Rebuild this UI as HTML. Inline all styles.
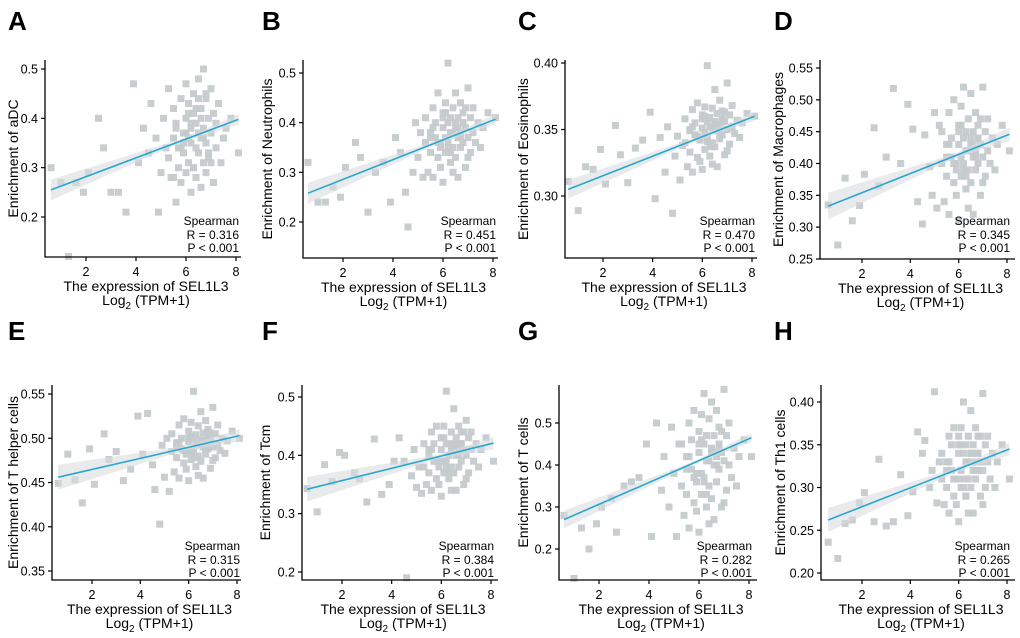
<!DOCTYPE html>
<html><head><meta charset="utf-8">
<style>
html,body{margin:0;padding:0;background:#fff;}
svg{display:block;font-family:"Liberation Sans",Arial,sans-serif;}
</style></head>
<body>
<svg id="fig" width="1020" height="638" viewBox="0 0 1020 638" xmlns="http://www.w3.org/2000/svg"></svg>
<script>
// shared x values (SEL1L3 expression)
const xVals = [0.6,1.0,1.3,1.6,1.9,2.1,2.5,2.7,3.0,3.3,3.6,3.9,4.1,4.3,4.5,4.6,4.8,4.9,5.0,5.1,5.2,5.3,5.3,5.4,5.5,5.5,5.6,5.6,5.7,5.7,5.8,5.8,5.9,5.9,6.0,6.0,6.0,6.1,6.1,6.1,6.2,6.2,6.2,6.3,6.3,6.3,6.4,6.4,6.4,6.5,6.5,6.5,6.6,6.6,6.6,6.7,6.7,6.7,6.8,6.8,6.8,6.9,6.9,7.0,7.0,7.1,7.1,7.2,7.2,7.3,7.4,7.5,7.6,7.8,8.1,5.6,5.9,6.1,6.3,6.5,6.7,6.9,6.2,6.4,6.0,5.8,6.6,7.0,6.8,5.5];
const xTicks = [2,4,6,8];
const panelLetters = ["A","B","C","D","E","F","G","H"];
const cellNames = ["aDC","Neutrophils","Eosinophils","Macrophages","T helper cells","Tcm","T cells","Th1 cells"];
const rValues = ["0.316","0.451","0.470","0.345","0.315","0.384","0.282","0.265"];
const lineStart = [0.255,0.258,0.305,0.333,0.456,0.342,0.270,0.262];
const lineEnd = [0.398,0.407,0.360,0.446,0.503,0.421,0.465,0.345];
const yTicksA = [0.2,0.3,0.4,0.5];
const yTicksB = [0.2,0.3,0.4,0.5];
const yTicksC = [0.30,0.35,0.40];
const yTicksD = [0.25,0.30,0.35,0.40,0.45,0.50,0.55];
const yTicksE = [0.35,0.40,0.45,0.50,0.55];
const yTicksF = [0.2,0.3,0.4,0.5];
const yTicksG = [0.2,0.3,0.4,0.5];
const yTicksH = [0.20,0.25,0.30,0.35,0.40];
const yA = [0.30,0.27,0.12,0.27,0.25,0.29,0.40,0.34,0.25,0.25,0.21,0.47,0.31,0.38,0.33,0.43,0.36,0.21,0.29,0.40,0.34,0.32,0.46,0.28,0.42,0.36,0.23,0.39,0.30,0.34,0.44,0.27,0.37,0.33,0.47,0.40,0.29,0.36,0.43,0.31,0.38,0.25,0.35,0.41,0.30,0.45,0.34,0.28,0.39,0.48,0.33,0.37,0.26,0.42,0.36,0.31,0.50,0.38,0.29,0.44,0.35,0.40,0.32,0.46,0.37,0.27,0.41,0.34,0.39,0.43,0.31,0.36,0.38,0.40,0.33,0.38,0.35,0.41,0.30,0.44,0.36,0.33,0.39,0.42,0.37,0.34,0.40,0.31,0.45,0.28];
const yB = [0.32,0.24,0.24,0.27,0.25,0.31,0.36,0.33,0.22,0.30,0.32,0.24,0.37,0.34,0.26,0.19,0.30,0.40,0.33,0.38,0.29,0.36,0.41,0.30,0.38,0.34,0.43,0.29,0.37,0.40,0.33,0.46,0.35,0.31,0.39,0.42,0.28,0.37,0.44,0.34,0.40,0.52,0.36,0.32,0.41,0.38,0.30,0.43,0.35,0.39,0.46,0.33,0.37,0.41,0.29,0.38,0.44,0.35,0.40,0.36,0.42,0.31,0.39,0.47,0.37,0.34,0.41,0.38,0.43,0.36,0.40,0.35,0.39,0.42,0.41,0.39,0.36,0.42,0.34,0.40,0.37,0.43,0.35,0.38,0.41,0.36,0.39,0.33,0.40,0.37];
const yC = [0.311,0.289,0.322,0.320,0.335,0.309,0.353,0.331,0.310,0.336,0.342,0.363,0.298,0.344,0.318,0.352,0.287,0.330,0.345,0.312,0.338,0.340,0.358,0.322,0.350,0.333,0.365,0.318,0.346,0.355,0.329,0.370,0.342,0.326,0.351,0.361,0.320,0.348,0.367,0.335,0.356,0.398,0.344,0.330,0.359,0.352,0.324,0.366,0.340,0.354,0.380,0.337,0.349,0.362,0.322,0.353,0.372,0.343,0.358,0.346,0.364,0.331,0.356,0.385,0.350,0.339,0.361,0.352,0.368,0.347,0.357,0.344,0.355,0.362,0.360,0.352,0.343,0.360,0.337,0.356,0.348,0.363,0.341,0.351,0.358,0.345,0.354,0.334,0.357,0.349];
const yD = [0.335,0.272,0.377,0.310,0.334,0.383,0.456,0.365,0.410,0.518,0.400,0.493,0.454,0.340,0.305,0.445,0.395,0.350,0.480,0.330,0.460,0.40,0.45,0.34,0.43,0.38,0.48,0.32,0.41,0.44,0.37,0.50,0.39,0.35,0.43,0.46,0.31,0.41,0.49,0.38,0.44,0.52,0.40,0.36,0.45,0.42,0.33,0.47,0.39,0.43,0.51,0.37,0.41,0.45,0.32,0.42,0.48,0.39,0.44,0.40,0.46,0.35,0.43,0.52,0.41,0.38,0.45,0.42,0.47,0.40,0.44,0.39,0.43,0.46,0.42,0.43,0.40,0.46,0.38,0.44,0.41,0.47,0.39,0.42,0.45,0.40,0.43,0.37,0.44,0.41];
const yE = [0.449,0.482,0.453,0.427,0.488,0.448,0.505,0.476,0.485,0.452,0.465,0.525,0.482,0.528,0.470,0.442,0.403,0.492,0.456,0.500,0.440,0.485,0.505,0.462,0.495,0.478,0.515,0.455,0.488,0.500,0.472,0.522,0.482,0.465,0.496,0.508,0.452,0.486,0.518,0.476,0.500,0.553,0.484,0.468,0.504,0.492,0.458,0.514,0.480,0.497,0.530,0.474,0.490,0.506,0.455,0.494,0.520,0.482,0.502,0.488,0.510,0.466,0.498,0.535,0.490,0.478,0.505,0.493,0.515,0.486,0.500,0.483,0.497,0.508,0.500,0.495,0.484,0.502,0.478,0.498,0.488,0.506,0.481,0.493,0.500,0.486,0.496,0.475,0.499,0.490];
const yF = [0.343,0.303,0.384,0.355,0.405,0.400,0.370,0.360,0.320,0.428,0.333,0.350,0.390,0.430,0.390,0.190,0.365,0.410,0.345,0.380,0.335,0.38,0.42,0.35,0.41,0.37,0.44,0.34,0.39,0.42,0.36,0.45,0.38,0.35,0.41,0.43,0.33,0.39,0.45,0.37,0.42,0.51,0.39,0.36,0.42,0.40,0.34,0.44,0.38,0.41,0.48,0.37,0.40,0.43,0.34,0.41,0.45,0.38,0.42,0.39,0.44,0.35,0.41,0.46,0.40,0.37,0.43,0.41,0.44,0.39,0.42,0.38,0.41,0.43,0.39,0.41,0.39,0.43,0.37,0.42,0.40,0.44,0.38,0.41,0.43,0.39,0.42,0.36,0.42,0.40];
const yG = [0.28,0.13,0.25,0.20,0.26,0.30,0.32,0.24,0.35,0.36,0.37,0.45,0.23,0.50,0.34,0.42,0.30,0.49,0.38,0.23,0.45,0.35,0.45,0.28,0.42,0.33,0.50,0.25,0.39,0.46,0.31,0.53,0.36,0.29,0.43,0.48,0.24,0.38,0.52,0.33,0.45,0.57,0.37,0.30,0.47,0.41,0.26,0.51,0.35,0.43,0.55,0.32,0.40,0.47,0.27,0.42,0.53,0.36,0.45,0.39,0.49,0.30,0.43,0.58,0.41,0.34,0.47,0.40,0.50,0.37,0.44,0.35,0.42,0.46,0.42,0.42,0.38,0.46,0.33,0.44,0.40,0.48,0.36,0.41,0.45,0.37,0.43,0.31,0.44,0.39];
const yH = [0.236,0.217,0.258,0.262,0.282,0.294,0.260,0.333,0.255,0.260,0.315,0.267,0.295,0.365,0.340,0.355,0.300,0.320,0.412,0.282,0.330,0.31,0.34,0.28,0.33,0.30,0.36,0.27,0.32,0.35,0.29,0.37,0.31,0.28,0.34,0.36,0.26,0.32,0.37,0.30,0.34,0.40,0.31,0.29,0.35,0.33,0.27,0.36,0.31,0.34,0.39,0.30,0.32,0.35,0.27,0.33,0.37,0.31,0.34,0.32,0.36,0.29,0.33,0.41,0.32,0.30,0.35,0.33,0.36,0.31,0.34,0.30,0.33,0.35,0.31,0.33,0.31,0.35,0.29,0.34,0.32,0.36,0.30,0.33,0.35,0.31,0.34,0.28,0.34,0.32];
const yTickDecimals = [1,1,2,2,2,1,1,2];

const allY = [yA,yB,yC,yD,yE,yF,yG,yH];
const allTicks = [yTicksA,yTicksB,yTicksC,yTicksD,yTicksE,yTicksF,yTicksG,yTicksH];
// layout (pixels): axisX, top, bottom, x2px, x8px, yv1, yp1, yv2, yp2, right, titleX, letterX, row
const layout = [
 [45,60,257,86,236,0.5,69,0.2,217,241,13,8,0],
 [303,60,258,343,493,0.5,73,0.2,222,498,267,262,0],
 [565,60,258,603,752,0.40,63,0.30,196,757,523,518,0],
 [820,60,259,862,1007,0.55,68,0.25,259,1015,778,774,0],
 [52,385,580,92,237,0.55,394,0.35,571,241,13,8,1],
 [302,385,580,342,491,0.5,397,0.2,572,498,265,262,1],
 [559,385,580,599,749,0.5,423,0.2,549,757,523,518,1],
 [821,385,580,862,1007,0.40,402,0.20,573,1015,780,774,1]
];
const NS = "http://www.w3.org/2000/svg";
const svg = document.getElementById('fig');
function mk(tag, attrs, parent){const e=document.createElementNS(NS,tag);for(const k in attrs)e.setAttribute(k,attrs[k]);(parent||svg).appendChild(e);return e;}

for(let p=0;p<8;p++){
  const L=layout[p];
  const [ax,top,bot,x2,x8,v1,p1,v2,p2,right,tX,letX,row]=L;
  const g=mk('g',{});
  
  
  const xs=v=>x2+(v-2)*(x8-x2)/6;
  const ys=v=>p1+(v-v1)*(p2-p1)/(v2-v1);
  const lt=mk('text',{x:letX,y:row?340:30,'font-size':26,'font-weight':'bold',fill:'#000'},g);
  lt.textContent=panelLetters[p];
  
  
  const pg=mk('g',{fill:'#c5cacc','fill-opacity':0.95},g);
  
  
  const yv=allY[p];
  const n=Math.min(xVals.length,yv.length);
  for(let i=0;i<n;i++){
    const r=mk('rect',{x:(xs(xVals[i])-3.5).toFixed(1),y:(ys(yv[i])-3.5).toFixed(1),width:7,height:7},pg);
    
    
  }
  const xa=0.6,xb=8.1,xm=5.8;
  const lv=x=>lineStart[p]+(x-xa)*(lineEnd[p]-lineStart[p])/(xb-xa);
  const span=Math.abs(ys(v1)-ys(v2));
  const wl=span*0.07, wm=span*0.012, wr=span*0.035;
  const band=mk('path',{d:`M${xs(xa)},${ys(lv(xa))-wl} L${xs(xm)},${ys(lv(xm))-wm} L${xs(xb)},${ys(lv(xb))-wr} L${xs(xb)},${ys(lv(xb))+wr} L${xs(xm)},${ys(lv(xm))+wm} L${xs(xa)},${ys(lv(xa))+wl} Z`,fill:'#d9dcdd','fill-opacity':0.6},g);
  
  
  const ln=mk('line',{x1:xs(xa),y1:ys(lineStart[p]),x2:xs(xb),y2:ys(lineEnd[p]),stroke:'#2aa6d0','stroke-width':1.6},g);
  
  
  const axl=mk('path',{d:`M${ax},${top} L${ax},${bot} L${right},${bot}`,fill:'none',stroke:'#000','stroke-width':1.3},g);
  
  
  allTicks[p].forEach(t=>{
    const yy=ys(t);
    mk('line',{x1:ax-4,y1:yy,x2:ax,y2:yy,stroke:'#000','stroke-width':1.2},g);
    const tx=mk('text',{x:ax-7,y:yy+4.5,'font-size':12.5,'text-anchor':'end',fill:'#000'},g);
    tx.textContent=t.toFixed(yTickDecimals[p]);
    
    
  });
  xTicks.forEach(t=>{
    const xx=xs(t);
    mk('line',{x1:xx,y1:bot,x2:xx,y2:bot+4,stroke:'#000','stroke-width':1.2},g);
    const tx=mk('text',{x:xx,y:bot+19,'font-size':12.5,'text-anchor':'middle',fill:'#000'},g);
    tx.textContent=String(t);
    
    
  });
  const cx=(ax+right)/2+3;
  const t1=mk('text',{x:cx,y:bot+34,'font-size':14,'text-anchor':'middle',fill:'#000'},g);
  t1.textContent='The expression of SEL1L3';
  
  
  const t2=mk('text',{x:cx,y:bot+48,'font-size':14,'text-anchor':'middle',fill:'#000'},g);
  t2.innerHTML='Log<tspan font-size="10" dy="4">2</tspan><tspan dy="-4"> (TPM+1)</tspan>';
  
  
  const cy=(top+bot)/2;
  const yt=mk('text',{x:tX,y:cy,'font-size':14,'text-anchor':'middle',fill:'#000',transform:`rotate(-90 ${tX} ${cy})`,dy:5},g);
  yt.textContent='Enrichment of '+cellNames[p];
  
  
  const sx=x8+3;
  const sb=row?[550,564,577]:[225,239,252];
  const st=['Spearman','R = '+rValues[p],'P < 0.001'];
  st.forEach((s,i)=>{
    const e=mk('text',{x:sx,y:sb[i],'font-size':12,'text-anchor':'end',fill:'#000'},g);
    e.textContent=s;
    
    
  });
}
</script>
</body></html>
